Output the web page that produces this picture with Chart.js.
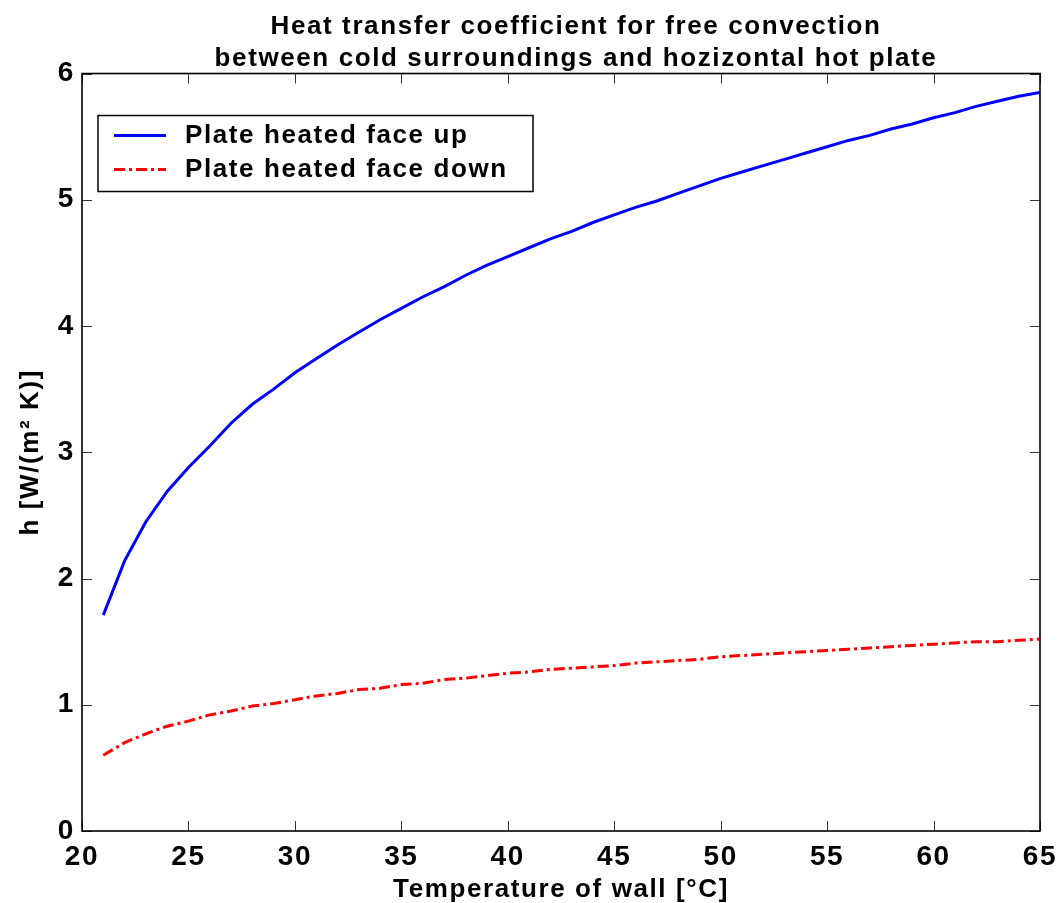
<!DOCTYPE html>
<html>
<head>
<meta charset="utf-8">
<script src="https://cdn.jsdelivr.net/npm/chart.js"></script>
<style>
  html, body { margin: 0; padding: 0; background: #fff; }
  canvas { display: block; }
</style>
</head>
<body>
<canvas id="grafica" width="1058" height="903"></canvas>
<script>
// wall temperature [°C]
var temperaturas = [21, 22, 23, 24, 25, 26, 27, 28, 29, 30, 31, 32, 33, 34, 35,
    36, 37, 38, 39, 40, 41, 42, 43, 44, 45, 46, 47, 48, 49, 50,
    51, 52, 53, 54, 55, 56, 57, 58, 59, 60, 61, 62, 63, 64, 65];

// h [W/(m2 K)] - plate heated face up
var caraArriba = [1.71, 2.14, 2.45, 2.69, 2.88, 3.05, 3.23, 3.38, 3.50, 3.63, 3.74, 3.85, 3.95, 4.05, 4.14,
    4.23, 4.31, 4.40, 4.48, 4.55, 4.62, 4.69, 4.75, 4.82, 4.88, 4.94, 4.99, 5.05, 5.11, 5.17,
    5.22, 5.27, 5.32, 5.37, 5.42, 5.47, 5.51, 5.56, 5.60, 5.65, 5.69, 5.74, 5.78, 5.82, 5.85];

// h [W/(m2 K)] - plate heated face down
var caraAbajo = [0.60, 0.70, 0.77, 0.83, 0.87, 0.92, 0.95, 0.99, 1.01, 1.04, 1.07, 1.09, 1.12, 1.13, 1.16,
    1.17, 1.20, 1.21, 1.23, 1.25, 1.26, 1.28, 1.29, 1.30, 1.31, 1.33, 1.34, 1.35, 1.36, 1.38,
    1.39, 1.40, 1.41, 1.42, 1.43, 1.44, 1.45, 1.46, 1.47, 1.48, 1.49, 1.50, 1.50, 1.51, 1.52];

var etiquetas = ['Plate heated face up', 'Plate heated face down'];
var ticksX = [20, 25, 30, 35, 40, 45, 50, 55, 60, 65];
var ticksY = [0, 1, 2, 3, 4, 5, 6];

var fuente = '"Liberation Sans", Arial, Helvetica, sans-serif';
var espaciado = '1.6px';

Chart.defaults.color = '#000';
Chart.defaults.font.family = fuente;

function puntos(valores) {
    return temperaturas.map(function (t, i) {
        return { x: t, y: valores[i] };
    });
}

// MATLAB-like box: frame + inward ticks on all four sides
var marco = {
    id: 'marco',
    beforeUpdate: function (chart) { chart.ctx.letterSpacing = espaciado; },
    beforeDraw: function (chart) { chart.ctx.letterSpacing = espaciado; },
    afterLayout: function (chart) {
        // title in the original sits a bit right of the axes centre
        if (chart.titleBlock) {
            chart.titleBlock.left += 15;
            chart.titleBlock.right += 15;
            chart.titleBlock.top += 2;
        }
    },
    afterDatasetsDraw: function (chart) {
        var ctx = chart.ctx;
        var a = chart.chartArea;
        var sx = chart.scales.x, sy = chart.scales.y;
        var largo = 10;
        ctx.save();
        ctx.strokeStyle = '#333';
        ctx.lineWidth = 1;
        ctx.beginPath();
        sx.ticks.forEach(function (t) {
            var px = Math.round(sx.getPixelForValue(t.value)) + 0.5;
            ctx.moveTo(px, a.bottom); ctx.lineTo(px, a.bottom - largo);
            ctx.moveTo(px, a.top); ctx.lineTo(px, a.top + largo);
        });
        sy.ticks.forEach(function (t) {
            var py = Math.round(sy.getPixelForValue(t.value)) + 0.5;
            ctx.moveTo(a.left, py); ctx.lineTo(a.left + largo, py);
            ctx.moveTo(a.right, py); ctx.lineTo(a.right - largo, py);
        });
        ctx.stroke();
        ctx.strokeStyle = '#000';
        ctx.lineWidth = 1.6;
        ctx.strokeRect(a.left, a.top, a.right - a.left, a.bottom - a.top);
        ctx.restore();
    }
};

// legend box inside the plot, top-left
var leyenda = {
    id: 'leyenda',
    afterDraw: function (chart) {
        var ctx = chart.ctx;
        var a = chart.chartArea;
        var x = a.left + 16, y = a.top + 42, w = 435, h = 76;
        ctx.save();
        ctx.fillStyle = '#fff';
        ctx.fillRect(x, y, w, h);
        ctx.strokeStyle = '#000';
        ctx.lineWidth = 1.5;
        ctx.strokeRect(x, y, w, h);
        ctx.font = 'bold 26px ' + fuente;
        ctx.letterSpacing = espaciado;
        ctx.textBaseline = 'middle';
        ctx.textAlign = 'left';
        chart.data.datasets.forEach(function (ds, i) {
            var fy = y + 20 + i * 34;
            ctx.strokeStyle = ds.borderColor;
            ctx.lineWidth = 3;
            ctx.setLineDash(ds.borderDash || []);
            ctx.beginPath();
            ctx.moveTo(x + 16, fy);
            ctx.lineTo(x + 68, fy);
            ctx.stroke();
            ctx.setLineDash([]);
            ctx.fillStyle = '#000';
            ctx.fillText(ds.label, x + 87, fy);
        });
        ctx.restore();
    }
};

var ctx = document.getElementById('grafica').getContext('2d');
var grafica = new Chart(ctx, {
    type: 'line',
    data: {
        datasets: [
            {
                label: etiquetas[0],
                data: puntos(caraArriba),
                borderColor: '#0000ff',
                borderWidth: 3,
                pointRadius: 0,
                tension: 0
            },
            {
                label: etiquetas[1],
                data: puntos(caraAbajo),
                borderColor: '#ff0000',
                borderWidth: 3,
                borderDash: [11, 4, 3, 4],
                pointRadius: 0,
                tension: 0
            }
        ]
    },
    options: {
        responsive: false,
        animation: false,
        layout: { padding: { left: 0, right: 18, top: 0, bottom: 0 } },
        plugins: {
            legend: { display: false },
            tooltip: { enabled: false },
            title: {
                display: true,
                fullSize: false,
                text: ['Heat transfer coefficient for free convection',
                       'between cold surroundings and hozizontal hot plate'],
                font: { size: 26, weight: 'bold', lineHeight: 1.26 },
                color: '#000',
                padding: { top: 8, bottom: 0 }
            }
        },
        scales: {
            x: {
                type: 'linear',
                min: 20,
                max: 65,
                afterBuildTicks: function (s) {
                    s.ticks = ticksX.map(function (v) { return { value: v }; });
                },
                afterFit: function (s) {
                    s.height = 72;
                    s.paddingLeft = 0;
                    s.paddingRight = 0;
                },
                grid: { display: false, drawTicks: false },
                border: { display: false },
                ticks: {
                    font: { size: 28, weight: 'bold' },
                    color: '#000',
                    padding: 9,
                    maxRotation: 0
                },
                title: {
                    display: true,
                    text: 'Temperature of wall [°C]',
                    font: { size: 26, weight: 'bold', lineHeight: 1 },
                    color: '#000',
                    padding: { top: 0, bottom: 0 }
                }
            },
            y: {
                min: 0,
                max: 6,
                afterBuildTicks: function (s) {
                    s.ticks = ticksY.map(function (v) { return { value: v }; });
                },
                afterFit: function (s) {
                    s.width = 82;
                    s.paddingTop = 0;
                    s.paddingBottom = 0;
                },
                grid: { display: false, drawTicks: false },
                border: { display: false },
                ticks: {
                    font: { size: 28, weight: 'bold' },
                    color: '#000',
                    padding: 7
                },
                title: {
                    display: true,
                    text: 'h [W/(m² K)]',
                    font: { size: 26, weight: 'bold', lineHeight: 1 },
                    color: '#000',
                    padding: { top: 18, bottom: 0 }
                }
            }
        }
    },
    plugins: [marco, leyenda]
});
</script>
</body>
</html>
